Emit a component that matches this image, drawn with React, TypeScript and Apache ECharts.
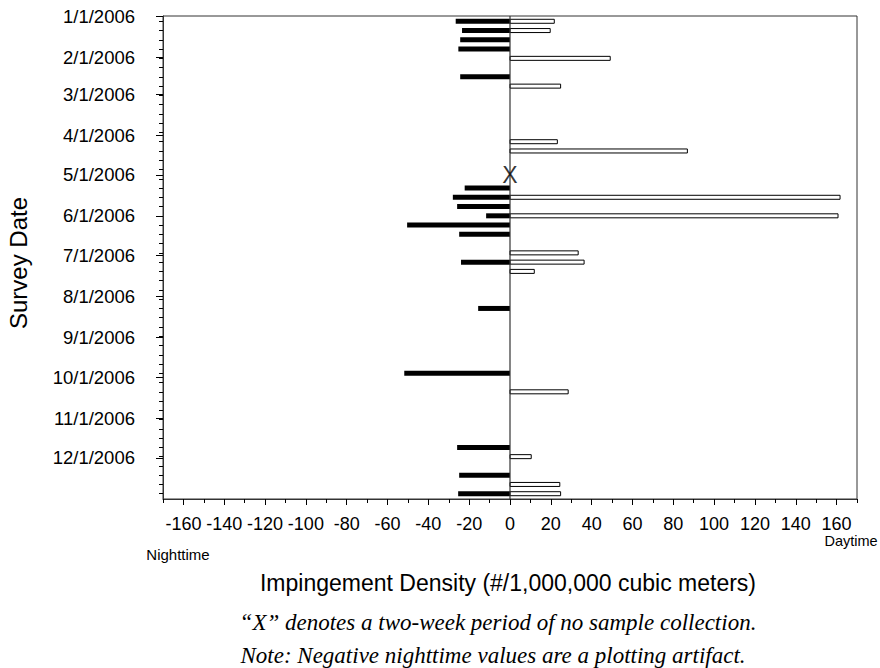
import React, { useEffect, useRef } from "react";
import * as echarts from "echarts";

// ---- Data ----
const monthTickDates = [
  "2006-01-01", "2006-02-01", "2006-03-01", "2006-04-01", "2006-05-01", "2006-06-01",
  "2006-07-01", "2006-08-01", "2006-09-01", "2006-10-01", "2006-11-01", "2006-12-01",
];
const axisStartDate = "2006-01-01";
const axisEndDate = "2007-01-01";
const firstWeekDate = "2006-01-05";

const nightDates = [
  "2006-01-05", "2006-01-12", "2006-01-19", "2006-01-26", "2006-02-16",
  "2006-05-11", "2006-05-18", "2006-05-25", "2006-06-01", "2006-06-08", "2006-06-15",
  "2006-07-06", "2006-08-10", "2006-09-28", "2006-11-23", "2006-12-14", "2006-12-28",
];
const nightValues = [
  -26.6, -23.5, -24.4, -25.3, -24.4,
  -22.2, -28.0, -25.9, -11.7, -50.4, -24.9,
  -24.0, -15.6, -51.8, -25.9, -24.9, -25.4,
];

const dayDates = [
  "2006-01-05", "2006-01-12", "2006-02-02", "2006-02-23", "2006-04-06", "2006-04-13",
  "2006-05-18", "2006-06-01", "2006-06-29", "2006-07-06", "2006-07-13", "2006-10-12",
  "2006-11-30", "2006-12-21", "2006-12-28",
];
const dayValues = [
  21.7, 19.7, 49.1, 24.8, 23.2, 86.9,
  161.7, 160.7, 33.4, 36.3, 11.9, 28.5,
  10.4, 24.4, 24.8,
];

const noSampleDate = "2006-05-01";
const xLabelValues = [-160, -140, -120, -100, -80, -60, -40, -20, 0, 20, 40, 60, 80, 100, 120, 140, 160];
const xMinorTickValues = [-170, -150, -130, -110, -90, -70, -50, -30, -10, 10, 30, 50, 70, 90, 110, 130, 150, 170];

const xTitle = "Impingement Density (#/1,000,000 cubic meters)";
const yTitle = "Survey Date";
const note1 = "\u201CX\u201D denotes a two-week period of no sample collection.";
const note2 = "Note: Negative nighttime values are a plotting artifact.";

// date string -> day number since 2006-01-01 (UTC-based, timezone independent)
const BASE = Date.UTC(2006, 0, 1);
function toDay(s: string): number {
  const [y, m, d] = s.split("-").map(Number);
  return Math.round((Date.UTC(y, m - 1, d) - BASE) / 86400000);
}
function dayLabel(v: number): string {
  const d = new Date(BASE + Math.round(v) * 86400000);
  return `${d.getUTCMonth() + 1}/${d.getUTCDate()}/${d.getUTCFullYear()}`;
}

const SANS = "'Liberation Sans', Arial, sans-serif";
const SERIF = "'Liberation Serif', 'Times New Roman', serif";

export default function App() {
  const ref = useRef<HTMLDivElement>(null);

  useEffect(() => {
    if (!ref.current) return;
    const chart = echarts.init(ref.current, undefined, { renderer: "svg" });

    const dMin = toDay(axisStartDate);
    const dMax = toDay(axisEndDate);
    const monthTicks = monthTickDates.map(toDay);
    const weekTicks: number[] = [];
    for (let t = toDay(firstWeekDate); t < dMax; t += 7) weekTicks.push(t);

    const nightData = nightDates.map((d, i) => [nightValues[i], toDay(d)]);
    const dayData = dayDates.map((d, i) => [dayValues[i], toDay(d)]);

    const makeRender = (h: number, style: any) => (params: any, api: any) => {
      const v = api.value(0);
      const t = api.value(1);
      const p0 = api.coord([0, t]);
      const p1 = api.coord([v, t]);
      return {
        type: "rect",
        shape: {
          x: Math.min(p0[0], p1[0]),
          y: p0[1] - h / 2,
          width: Math.abs(p1[0] - p0[0]),
          height: h,
        },
        style,
      };
    };

    chart.setOption({
      animation: false,
      backgroundColor: "#fff",
      grid: {
        left: 163,
        right: 23,
        top: 16,
        bottom: 169,
        show: true,
        borderColor: "#333",
        borderWidth: 1,
        backgroundColor: "transparent",
      },
      xAxis: [
        {
          type: "value",
          min: -170,
          max: 170,
          interval: 10,
          position: "bottom",
          axisLine: { show: true, onZero: false, lineStyle: { color: "#333", width: 1 } },
          axisTick: { show: true, length: 6, customValues: xLabelValues, lineStyle: { color: "#000" } },
          axisLabel: {
            show: true,
            customValues: xLabelValues,
            margin: 16,
            fontSize: 18,
            fontFamily: SANS,
            color: "#000",
          },
          splitLine: { show: false },
        },
        {
          type: "value",
          min: -170,
          max: 170,
          interval: 10,
          position: "bottom",
          axisLine: { show: false, onZero: false },
          axisTick: { show: true, length: 4, customValues: xMinorTickValues, lineStyle: { color: "#000" } },
          axisLabel: { show: false },
          splitLine: { show: false },
        },
      ],
      yAxis: [
        {
          type: "value",
          inverse: true,
          min: dMin,
          max: dMax,
          position: "left",
          axisLine: { show: true, onZero: false, lineStyle: { color: "#333", width: 1 } },
          axisTick: { show: true, length: 7, customValues: monthTicks, lineStyle: { color: "#000" } },
          axisLabel: {
            show: true,
            customValues: monthTicks,
            formatter: dayLabel,
            margin: 28,
            fontSize: 18.5,
            fontFamily: SANS,
            color: "#000",
          },
          splitLine: { show: false },
        },
        {
          type: "value",
          inverse: true,
          min: dMin,
          max: dMax,
          position: "left",
          axisLine: { show: false, onZero: false },
          axisTick: { show: true, length: 4, customValues: weekTicks, lineStyle: { color: "#000" } },
          axisLabel: { show: false },
          splitLine: { show: false },
        },
      ],
      series: [
        {
          name: "Nighttime",
          type: "custom",
          xAxisIndex: 0,
          yAxisIndex: 0,
          encode: { x: 0, y: 1 },
          renderItem: makeRender(5, { fill: "#000" }),
          data: nightData,
          z: 3,
        },
        {
          name: "Daytime",
          type: "custom",
          xAxisIndex: 0,
          yAxisIndex: 0,
          encode: { x: 0, y: 1 },
          renderItem: makeRender(4, { fill: "#fff", stroke: "#000", lineWidth: 1 }),
          data: dayData,
          z: 3,
        },
        {
          name: "zero",
          type: "line",
          xAxisIndex: 0,
          yAxisIndex: 0,
          data: [[0, dMin], [0, dMax]],
          symbol: "none",
          lineStyle: { color: "#333", width: 1.2 },
          silent: true,
          z: 4,
        },
        {
          name: "noSample",
          type: "scatter",
          xAxisIndex: 0,
          yAxisIndex: 0,
          data: [[0, toDay(noSampleDate)]],
          symbolSize: 1,
          itemStyle: { color: "rgba(0,0,0,0)" },
          label: {
            show: true,
            position: "inside",
            formatter: "X",
            fontSize: 23,
            fontFamily: SANS,
            color: "#000",
          },
          z: 5,
        },
      ],
      graphic: [
        {
          type: "text",
          x: 18,
          y: 263,
          rotation: Math.PI / 2,
          style: {
            text: yTitle,
            fontSize: 24,
            fontFamily: SANS,
            fill: "#000",
            align: "center",
            verticalAlign: "middle",
          },
        },
        {
          type: "text",
          x: 178,
          y: 554,
          style: { text: "Nighttime", fontSize: 15, fontFamily: SANS, fill: "#000", align: "center", verticalAlign: "middle" },
        },
        {
          type: "text",
          x: 851,
          y: 541,
          style: { text: "Daytime", fontSize: 14.5, fontFamily: SANS, fill: "#000", align: "center", verticalAlign: "middle" },
        },
        {
          type: "text",
          x: 508,
          y: 583,
          style: { text: xTitle, fontSize: 23, fontFamily: SANS, fill: "#000", align: "center", verticalAlign: "middle" },
        },
        {
          type: "text",
          x: 498,
          y: 622,
          style: {
            text: note1,
            fontSize: 23,
            fontStyle: "italic",
            fontFamily: SERIF,
            fill: "#000",
            align: "center",
            verticalAlign: "middle",
          },
        },
        {
          type: "text",
          x: 493,
          y: 655,
          style: {
            text: note2,
            fontSize: 23,
            fontStyle: "italic",
            fontFamily: SERIF,
            fill: "#000",
            align: "center",
            verticalAlign: "middle",
          },
        },
      ],
    });

    return () => chart.dispose();
  }, []);

  return (
    <div
      ref={ref}
      style={{ position: "fixed", left: 0, top: 0, width: 880, height: 668, background: "#fff" }}
    />
  );
}
